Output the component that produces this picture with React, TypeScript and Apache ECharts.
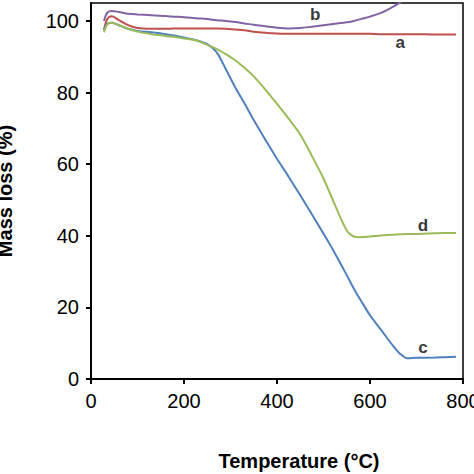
import React, { useEffect, useRef } from "react";
import * as echarts from "echarts";

const temps = [28, 35, 45, 60, 80, 100, 130, 160, 200, 230, 250, 270, 290, 310, 330, 350, 375, 400, 425, 450, 475, 500, 525, 550, 565, 580, 600, 625, 650, 665, 680, 700, 740, 785];

const seriesA = [97.5, 100.5, 101.3, 100.2, 98.8, 98.0, 97.8, 97.8, 97.9, 97.9, 97.9, 97.9, 97.8, 97.6, 97.4, 97.0, 96.7, 96.5, 96.4, 96.4, 96.4, 96.4, 96.4, 96.4, 96.4, 96.4, 96.4, 96.3, 96.3, 96.3, 96.3, 96.3, 96.2, 96.2];
const seriesB = [100.0, 102.3, 102.8, 102.5, 102.0, 101.8, 101.6, 101.4, 101.0, 100.7, 100.5, 100.2, 100.0, 99.7, 99.3, 98.9, 98.5, 98.1, 97.9, 98.0, 98.4, 98.8, 99.2, 99.6, 100.0, 100.5, 101.2, 102.3, 104.0, 105.2, 106.5, 108.0, null, null];
const seriesC = [97.5, 99.2, 99.5, 98.8, 97.8, 97.2, 96.8, 96.3, 95.4, 94.5, 93.5, 91.3, 86.5, 81.5, 77.0, 72.3, 66.8, 61.5, 56.5, 51.3, 46.0, 40.6, 35.0, 29.0, 25.3, 22.0, 17.8, 13.5, 9.2, 7.0, 5.8, 5.9, 6.0, 6.2];
const seriesD = [96.8, 99.0, 99.5, 98.8, 97.8, 97.0, 96.3, 95.8, 95.1, 94.4, 93.3, 92.2, 90.7, 89.0, 86.9, 84.5, 80.8, 76.8, 72.7, 68.3, 62.3, 56.0, 48.5, 41.5, 39.8, 39.6, 39.8, 40.1, 40.3, 40.4, 40.5, 40.5, 40.7, 40.8];

const xTicks = [0, 200, 400, 600, 800];
const yTicks = [0, 20, 40, 60, 80, 100];

const curveLabels = [
  { name: "a", coord: [665, 93.9] },
  { name: "b", coord: [482, 101.7] },
  { name: "c", coord: [714, 8.7] },
  { name: "d", coord: [714, 43] },
];

const colors = ["#C0504D", "#8064A2", "#4F81BD", "#9BBB59"];
const FONT = "Liberation Sans, Arial, sans-serif";

export default function App() {
  const ref = useRef<HTMLDivElement>(null);
  useEffect(() => {
    if (!ref.current) return;
    const chart = echarts.init(ref.current, null, { renderer: "svg" });
    const mk = (vals: (number | null)[], i: number) => ({
      type: "line",
      data: temps.map((t, k) => [t, vals[k]]),
      showSymbol: false,
      symbol: "none",
      smooth: 0.3,
      connectNulls: false,
      clip: true,
      lineStyle: { color: colors[i], width: 2 },
      itemStyle: { color: colors[i] },
    });
    const labelSeries = {
      type: "scatter",
      data: curveLabels.map((l) => ({ value: l.coord, name: l.name })),
      symbolSize: 0,
      label: {
        show: true,
        position: "inside",
        formatter: (p: any) => p.name,
        color: "#000",
        fontWeight: "bold",
        fontSize: 17,
        fontFamily: FONT,
      },
      silent: true,
    };
    chart.setOption({
      animation: false,
      backgroundColor: "#fff",
      grid: {
        left: 91,
        right: 11,
        top: 3,
        bottom: 95,
        show: true,
        borderColor: "#000",
        borderWidth: 1.5,
        containLabel: false,
        outerBoundsMode: "none",
      },
      xAxis: {
        type: "value",
        min: 0,
        max: 800,
        interval: 200,
        name: "Temperature (°C)",
        nameLocation: "middle",
        nameGap: 72,
        nameTextStyle: {
          fontFamily: FONT,
          fontWeight: "bold",
          fontSize: 20,
          color: "#000",
          padding: [0, 0, 0, 44],
        },
        axisLine: { show: true, lineStyle: { color: "#000", width: 2 } },
        axisTick: { show: true, inside: false, length: 5, lineStyle: { color: "#000", width: 2 } },
        axisLabel: {
          fontFamily: FONT,
          fontSize: 20,
          color: "#000",
          margin: 12,
          customValues: xTicks,
        },
        splitLine: { show: false },
      },
      yAxis: {
        type: "value",
        min: 0,
        max: 105,
        interval: 20,
        name: "Mass loss (%)",
        nameLocation: "middle",
        nameRotate: 90,
        nameGap: 76,
        nameTextStyle: {
          fontFamily: FONT,
          fontWeight: "bold",
          fontSize: 20,
          color: "#000",
        },
        axisLine: { show: true, lineStyle: { color: "#000", width: 2 } },
        axisTick: { show: true, inside: false, length: 5, lineStyle: { color: "#000", width: 2 }, customValues: yTicks },
        axisLabel: {
          fontFamily: FONT,
          fontSize: 20,
          color: "#000",
          margin: 12,
          customValues: yTicks,
        },
        splitLine: { show: false },
      },
      series: [mk(seriesA, 0), mk(seriesB, 1), mk(seriesC, 2), mk(seriesD, 3), labelSeries],
    });
    return () => chart.dispose();
  }, []);
  return <div ref={ref} style={{ width: 474, height: 474, position: "absolute", left: 0, top: 0 }} />;
}
